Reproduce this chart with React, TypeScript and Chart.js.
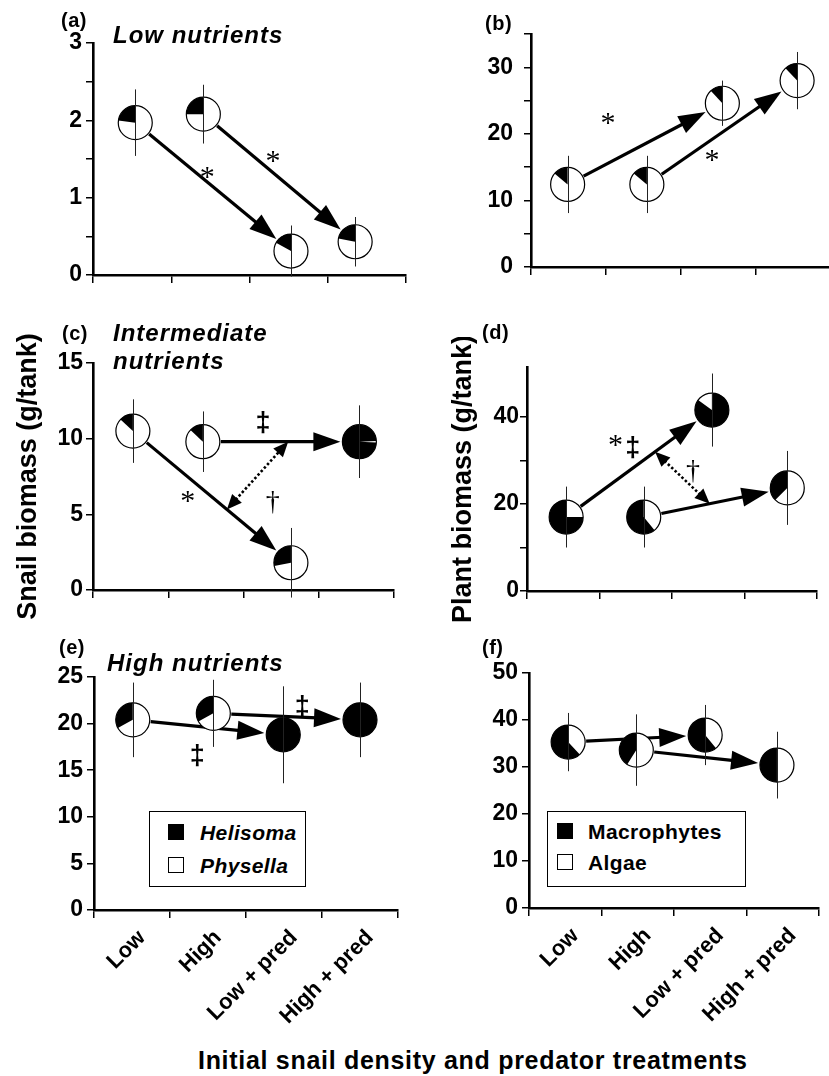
import React, { useEffect, useRef } from 'react';
import { Chart, registerables } from 'chart.js';

Chart.register(...registerables);

const FONT = '"Liberation Sans", Arial, Helvetica, sans-serif';
const SERIF = '"Liberation Serif", "Times New Roman", serif';

// ---------------- data ----------------
const categories = ['Low', 'High', 'Low + pred', 'High + pred'];

// (a) snail biomass, low nutrients
const aX = [0.54, 1.41, 2.53, 3.35];
const aY = [1.97, 2.08, 0.31, 0.43];
const aErr = [0.43, 0.38, 0.33, 0.32];
const aHelisoma = [0.23, 0.25, 0.17, 0.22];

// (b) plant biomass, low nutrients
const bX = [0.49, 1.55, 2.56, 3.56];
const bY = [12.4, 12.4, 24.6, 28.0];
const bErr = [4.3, 4.3, 3.4, 4.3];
const bMacrophytes = [0.14, 0.14, 0.12, 0.12];

// (c) snail biomass, intermediate nutrients
const cX = [0.53, 1.46, 2.63, 3.54];
const cY = [10.5, 9.8, 1.8, 9.8];
const cErr = [2.1, 2.0, 2.3, 2.4];
const cHelisoma = [0.13, 0.13, 0.28, 0.985];

// (d) plant biomass, intermediate nutrients
const dX = [0.54, 1.61, 2.55, 3.59];
const dY = [17.0, 17.0, 41.6, 23.7];
const dErr = [7.0, 7.0, 8.4, 8.5];
const dMacrophytes = [0.75, 0.61, 0.85, 0.375];

// (e) snail biomass, high nutrients
const eX = [0.51, 1.57, 2.49, 3.5];
const eY = [20.4, 21.1, 18.8, 20.4];
const eErr = [4.0, 3.6, 5.2, 4.0];
const eHelisoma = [0.33, 0.33, 1, 1];

// (f) plant biomass, high nutrients
const fX = [0.54, 1.48, 2.43, 3.42];
const fY = [35.3, 33.6, 36.8, 30.4];
const fErr = [6.2, 7.6, 6.4, 7.1];
const fMacrophytes = [0.62, 0.41, 0.61, 0.5];

// arrows connect treatment i -> j
const arrowPairs = [[0, 2], [1, 3]];

const snailLegend = ['Helisoma', 'Physella'];
const plantLegend = ['Macrophytes', 'Algae'];
const snailTitle = 'Snail biomass (g/tank)';
const plantTitle = 'Plant biomass (g/tank)';
const xTitle = 'Initial snail density and predator treatments';

// ---------------- panel specs ----------------
type Note = { t: string; x: number; y: number; kind: 'star' | 'ddag' | 'dag' };
type Spec = {
  id: string;
  xs: number[]; ys: number[]; err: number[]; black: number[];
  pieStart?: (number | null)[];
  yMax: number; yStep: number; yLabelEvery: number; yTickMax?: number; yPad: number;
  frame: { x0: number; x1: number; yTop: number; y0: number };
  yAxisW: number;
  xLabels: boolean;
  yTitle?: string;
  dotted?: { ta: number; tb: number };
  notes: Note[];
};

const SPECS: Spec[] = [
  {
    id: 'a', xs: aX, ys: aY, err: aErr, black: aHelisoma,
    yMax: 3, yStep: 0.5, yLabelEvery: 1, yPad: 4,
    frame: { x0: 93, x1: 406, yTop: 43, y0: 275 }, yAxisW: 60, xLabels: false,
    notes: [{ t: '*', x: 1.46, y: 1.33, kind: 'star' }, { t: '*', x: 2.3, y: 1.53, kind: 'star' }],
  },
  {
    id: 'b', xs: bX, ys: bY, err: bErr, black: bMacrophytes,
    yMax: 35, yStep: 5, yLabelEvery: 10, yPad: 11,
    frame: { x0: 531, x1: 830, yTop: 34, y0: 267 }, yAxisW: 60, xLabels: false,
    notes: [{ t: '*', x: 1.03, y: 22.3, kind: 'star' }, { t: '*', x: 2.42, y: 16.8, kind: 'star' }],
  },
  {
    id: 'c', xs: cX, ys: cY, err: cErr, black: cHelisoma, pieStart: [null, null, null, 93],
    yMax: 15, yStep: 5, yLabelEvery: 5, yPad: 3,
    frame: { x0: 93, x1: 394, yTop: 363, y0: 590 }, yAxisW: 81, xLabels: false,
    yTitle: snailTitle, dotted: { ta: 0.595, tb: 0.545 },
    notes: [
      { t: '\u2021', x: 2.26, y: 11.1, kind: 'ddag' },
      { t: '*', x: 1.26, y: 6.15, kind: 'star' },
      { t: '\u2020', x: 2.39, y: 5.8, kind: 'dag' },
    ],
  },
  {
    id: 'd', xs: dX, ys: dY, err: dErr, black: dMacrophytes, pieStart: [null, null, 0, null],
    yMax: 51.5, yStep: 10, yLabelEvery: 20, yTickMax: 40, yPad: 1,
    frame: { x0: 527, x1: 817, yTop: 367, y0: 591 }, yAxisW: 80, xLabels: false,
    yTitle: plantTitle, dotted: { ta: 0.61, tb: 0.46 },
    notes: [
      { t: '*', x: 1.22, y: 34.6, kind: 'star' },
      { t: '\u2021', x: 1.46, y: 32.9, kind: 'ddag' },
      { t: '\u2020', x: 2.29, y: 27.4, kind: 'dag' },
    ],
  },
  {
    id: 'e', xs: eX, ys: eY, err: eErr, black: eHelisoma,
    yMax: 25, yStep: 5, yLabelEvery: 5, yPad: 4,
    frame: { x0: 94, x1: 398, yTop: 677, y0: 910 }, yAxisW: 60, xLabels: true,
    notes: [{ t: '\u2021', x: 1.36, y: 16.6, kind: 'ddag' }, { t: '\u2021', x: 2.74, y: 21.8, kind: 'ddag' }],
  },
  {
    id: 'f', xs: fX, ys: fY, err: fErr, black: fMacrophytes,
    yMax: 50, yStep: 10, yLabelEvery: 10, yPad: 4,
    frame: { x0: 529, x1: 819, yTop: 673, y0: 908 }, yAxisW: 60, xLabels: true,
    notes: [],
  },
];

// ---------------- drawing helpers ----------------
const R = 17;
const TRIM0 = 18;
const TRIM1 = 19;
const HEAD_LEN = 27;
const HEAD_HALF = 9.5;

function head(ctx: CanvasRenderingContext2D, tx: number, ty: number, ux: number, uy: number, len: number, half: number) {
  const bx = tx - ux * len;
  const by = ty - uy * len;
  ctx.beginPath();
  ctx.moveTo(tx, ty);
  ctx.lineTo(bx - uy * half, by + ux * half);
  ctx.lineTo(bx + uy * half, by - ux * half);
  ctx.closePath();
  ctx.fill();
}

function solidArrow(ctx: CanvasRenderingContext2D, p: { x: number; y: number }, q: { x: number; y: number }) {
  const dx = q.x - p.x, dy = q.y - p.y;
  const L = Math.hypot(dx, dy);
  const ux = dx / L, uy = dy / L;
  const sx = p.x + ux * TRIM0, sy = p.y + uy * TRIM0;
  const tx = q.x - ux * TRIM1, ty = q.y - uy * TRIM1;
  ctx.lineWidth = 3.2;
  ctx.lineCap = 'butt';
  ctx.beginPath();
  ctx.moveTo(sx, sy);
  ctx.lineTo(tx - ux * (HEAD_LEN - 3), ty - uy * (HEAD_LEN - 3));
  ctx.stroke();
  head(ctx, tx, ty, ux, uy, HEAD_LEN, HEAD_HALF);
}

function dottedArrow(ctx: CanvasRenderingContext2D, p: { x: number; y: number }, q: { x: number; y: number }) {
  const dx = q.x - p.x, dy = q.y - p.y;
  const L = Math.hypot(dx, dy);
  const ux = dx / L, uy = dy / L;
  const hl = 15, hh = 6.5;
  ctx.save();
  ctx.lineWidth = 2.6;
  ctx.setLineDash([2.5, 2.2]);
  ctx.beginPath();
  ctx.moveTo(p.x + ux * (hl - 2), p.y + uy * (hl - 2));
  ctx.lineTo(q.x - ux * (hl - 2), q.y - uy * (hl - 2));
  ctx.stroke();
  ctx.restore();
  head(ctx, q.x, q.y, ux, uy, hl, hh);
  head(ctx, p.x, p.y, -ux, -uy, hl, hh);
}

function pie(ctx: CanvasRenderingContext2D, cx: number, cy: number, frac: number, startDeg: number | null | undefined) {
  ctx.beginPath();
  ctx.arc(cx, cy, R, 0, Math.PI * 2);
  ctx.fillStyle = '#fff';
  ctx.fill();
  if (frac > 0) {
    const sDeg = startDeg == null ? 360 - frac * 360 : startDeg;
    const s = -Math.PI / 2 + (sDeg * Math.PI) / 180;
    const e = s + frac * Math.PI * 2;
    ctx.beginPath();
    if (frac < 1) ctx.moveTo(cx, cy);
    ctx.arc(cx, cy, R, s, e);
    ctx.closePath();
    ctx.fillStyle = '#000';
    ctx.fill();
  }
  ctx.beginPath();
  ctx.arc(cx, cy, R, 0, Math.PI * 2);
  ctx.lineWidth = 1.2;
  ctx.strokeStyle = '#000';
  ctx.stroke();
}

function note(ctx: CanvasRenderingContext2D, n: Note, cx: number, cy: number) {
  if (n.kind === 'star') ctx.font = `normal 30px ${SERIF}`;
  else if (n.kind === 'dag') ctx.font = `normal 28px ${SERIF}`;
  else ctx.font = `bold 27px ${FONT}`;
  const m = ctx.measureText(n.t);
  const w = m.actualBoundingBoxLeft + m.actualBoundingBoxRight;
  const h = m.actualBoundingBoxAscent + m.actualBoundingBoxDescent;
  ctx.textAlign = 'left';
  ctx.textBaseline = 'alphabetic';
  ctx.fillStyle = '#000';
  ctx.fillText(n.t, cx - w / 2 + m.actualBoundingBoxLeft, cy + m.actualBoundingBoxAscent - h / 2);
}

function makeMarks(spec: Spec) {
  return {
    id: 'marks' + spec.id,
    afterDatasetsDraw(chart: any) {
      const ctx: CanvasRenderingContext2D = chart.ctx;
      const xs = chart.scales.x;
      const ys = chart.scales.y;
      const meta = chart.getDatasetMeta(0);
      const pts = meta.data.map((el: any) => ({ x: el.x, y: el.y }));
      ctx.save();
      ctx.fillStyle = '#000';
      ctx.strokeStyle = '#000';
      arrowPairs.forEach(([i, j]) => solidArrow(ctx, pts[i], pts[j]));
      if (spec.dotted) {
        const [a0, a1] = arrowPairs[0];
        const [b0, b1] = arrowPairs[1];
        const P = { x: pts[a0].x + (pts[a1].x - pts[a0].x) * spec.dotted.ta, y: pts[a0].y + (pts[a1].y - pts[a0].y) * spec.dotted.ta };
        const Q = { x: pts[b0].x + (pts[b1].x - pts[b0].x) * spec.dotted.tb, y: pts[b0].y + (pts[b1].y - pts[b0].y) * spec.dotted.tb };
        ctx.fillStyle = '#000';
        ctx.strokeStyle = '#000';
        dottedArrow(ctx, P, Q);
      }
      pts.forEach((p: any, i: number) => pie(ctx, p.x, p.y, spec.black[i], spec.pieStart ? spec.pieStart[i] : null));
      ctx.strokeStyle = '#222';
      ctx.lineWidth = 1;
      pts.forEach((p: any, i: number) => {
        const top = ys.getPixelForValue(spec.ys[i] + spec.err[i]);
        const bot = ys.getPixelForValue(spec.ys[i] - spec.err[i]);
        ctx.beginPath();
        ctx.moveTo(Math.round(p.x) + 0.5, top);
        ctx.lineTo(Math.round(p.x) + 0.5, bot);
        ctx.stroke();
      });
      spec.notes.forEach((n) => note(ctx, n, xs.getPixelForValue(n.x), ys.getPixelForValue(n.y)));
      ctx.restore();
    },
  };
}

const PAD_TOP = 30;
const PAD_RIGHT = 12;

function geom(spec: Spec) {
  const f = spec.frame;
  const xH = spec.xLabels ? 14 : 40;
  const x2H = spec.xLabels ? 110 : 0;
  return {
    left: f.x0 - spec.yAxisW,
    top: f.yTop - PAD_TOP,
    w: spec.yAxisW + (f.x1 - f.x0) + PAD_RIGHT,
    h: PAD_TOP + (f.y0 - f.yTop) + xH + x2H,
    xH,
    x2H,
  };
}

function buildConfig(spec: Spec, g: ReturnType<typeof geom>): any {
  const scales: any = {
    x: {
      type: 'linear', position: 'bottom', min: 0, max: 4, weight: 0,
      ticks: { display: false, stepSize: 1 },
      grid: { display: true, drawOnChartArea: false, drawTicks: true, tickLength: 8, color: '#000', lineWidth: 1.5 },
      border: { display: true, color: '#000', width: 2.6 },
      afterFit: (s: any) => { s.height = g.xH; },
    },
    y: {
      type: 'linear', position: 'left', min: 0, max: spec.yMax,
      ticks: {
        stepSize: spec.yStep,
        padding: spec.yPad,
        color: '#000',
        font: { family: FONT, size: 23, weight: 'bold' },
        callback: (v: number) => {
          const k = v / spec.yLabelEvery;
          return Math.abs(k - Math.round(k)) < 1e-6 ? String(v) : '';
        },
      },
      afterBuildTicks: (s: any) => {
        if (spec.yTickMax != null) s.ticks = s.ticks.filter((t: any) => t.value <= spec.yTickMax! + 1e-6);
      },
      grid: { display: true, drawOnChartArea: false, drawTicks: true, tickLength: 7, color: '#000', lineWidth: 1.5 },
      border: { display: true, color: '#000', width: 2.6 },
      title: spec.yTitle
        ? { display: true, text: spec.yTitle, color: '#000', padding: 0, font: { family: FONT, size: 27, weight: 'bold', lineHeight: 1.2 } }
        : { display: false },
      afterFit: (s: any) => { s.width = spec.yAxisW; },
    },
  };
  if (spec.xLabels) {
    scales.x2 = {
      type: 'category', position: 'bottom', labels: categories, offset: true, weight: 1,
      grid: { display: false },
      border: { display: false },
      ticks: {
        autoSkip: false, minRotation: 45, maxRotation: 45, padding: -7, labelOffset: 10,
        color: '#000', font: { family: FONT, size: 22, weight: 'bold' },
      },
      afterFit: (s: any) => { s.height = g.x2H; },
    };
  }
  return {
    type: 'scatter',
    data: {
      datasets: [
        {
          data: spec.xs.map((x, i) => ({ x, y: spec.ys[i] })),
          pointRadius: 0,
          showLine: false,
        },
      ],
    },
    options: {
      animation: false,
      responsive: false,
      maintainAspectRatio: false,
      events: [],
      layout: { padding: { top: PAD_TOP, right: PAD_RIGHT, left: 0, bottom: 0 } },
      plugins: { legend: { display: false }, tooltip: { enabled: false }, title: { display: false } },
      scales,
    },
    plugins: [makeMarks(spec)],
  };
}

function Panel({ spec }: { spec: Spec }) {
  const ref = useRef<HTMLCanvasElement>(null);
  const g = geom(spec);
  useEffect(() => {
    const chart = new Chart(ref.current as HTMLCanvasElement, buildConfig(spec, g));
    return () => chart.destroy();
  }, []);
  return (
    <canvas
      ref={ref}
      width={g.w}
      height={g.h}
      style={{ position: 'absolute', left: g.left, top: g.top, width: g.w, height: g.h }}
    />
  );
}

// ---------------- text layout ----------------
type Txt = { t: string; x: number; cy: number; size: number; italic?: boolean; ls?: number };
const TEXTS: Txt[] = [
  { t: '(a)', x: 61, cy: 20, size: 20, ls: 0.5 },
  { t: 'Low nutrients', x: 113, cy: 35, size: 24, italic: true, ls: 1 },
  { t: '(b)', x: 485, cy: 23, size: 20, ls: 0.5 },
  { t: '(c)', x: 62, cy: 333, size: 20, ls: 0.5 },
  { t: 'Intermediate', x: 113, cy: 333, size: 24, italic: true, ls: 1 },
  { t: 'nutrients', x: 113, cy: 361, size: 24, italic: true, ls: 1 },
  { t: '(d)', x: 482, cy: 332, size: 20, ls: 0.5 },
  { t: '(e)', x: 59, cy: 647, size: 20, ls: 0.5 },
  { t: 'High nutrients', x: 107, cy: 663, size: 24, italic: true, ls: 1 },
  { t: '(f)', x: 482, cy: 647, size: 20, ls: 0.5 },
  { t: xTitle, x: 198, cy: 1060, size: 25, ls: 0.7 },
];

function Legend({ left, top, width, names, italic, sqLeft, txtLeft, rows }: any) {
  return (
    <div
      style={{
        position: 'absolute', left, top, width, height: 76, border: '1px solid #000',
        boxSizing: 'border-box', background: '#fff',
      }}
    >
      {names.map((n: string, i: number) => (
        <React.Fragment key={n}>
          <div
            style={{
              position: 'absolute', left: sqLeft, top: rows[i] - 8, width: 16, height: 16,
              boxSizing: 'border-box', border: '1px solid #000', background: i === 0 ? '#000' : '#fff',
            }}
          />
          <div
            style={{
              position: 'absolute', left: txtLeft, top: rows[i], transform: 'translateY(-50%)',
              lineHeight: 1, fontSize: 21, fontWeight: 'bold', fontStyle: italic ? 'italic' : 'normal',
              whiteSpace: 'nowrap', letterSpacing: 0.4,
            }}
          >
            {n}
          </div>
        </React.Fragment>
      ))}
    </div>
  );
}

export default function App() {
  return (
    <div
      style={{
        position: 'absolute', left: 0, top: 0, width: 829, height: 1076, overflow: 'hidden',
        background: '#fff', fontFamily: FONT, color: '#000',
      }}
    >
      {SPECS.map((s) => (
        <Panel key={s.id} spec={s} />
      ))}
      {TEXTS.map((t, i) => (
        <div
          key={i}
          style={{
            position: 'absolute', left: t.x, top: t.cy, transform: 'translateY(-50%)', lineHeight: 1,
            fontSize: t.size, fontWeight: 'bold', fontStyle: t.italic ? 'italic' : 'normal',
            letterSpacing: t.ls || 0, whiteSpace: 'nowrap',
          }}
        >
          {t.t}
        </div>
      ))}
      <Legend left={149} top={811} width={157} names={snailLegend} italic sqLeft={18} txtLeft={50} rows={[20, 53]} />
      <Legend left={547} top={811} width={199} names={plantLegend} italic={false} sqLeft={9} txtLeft={40} rows={[19, 50]} />
    </div>
  );
}
